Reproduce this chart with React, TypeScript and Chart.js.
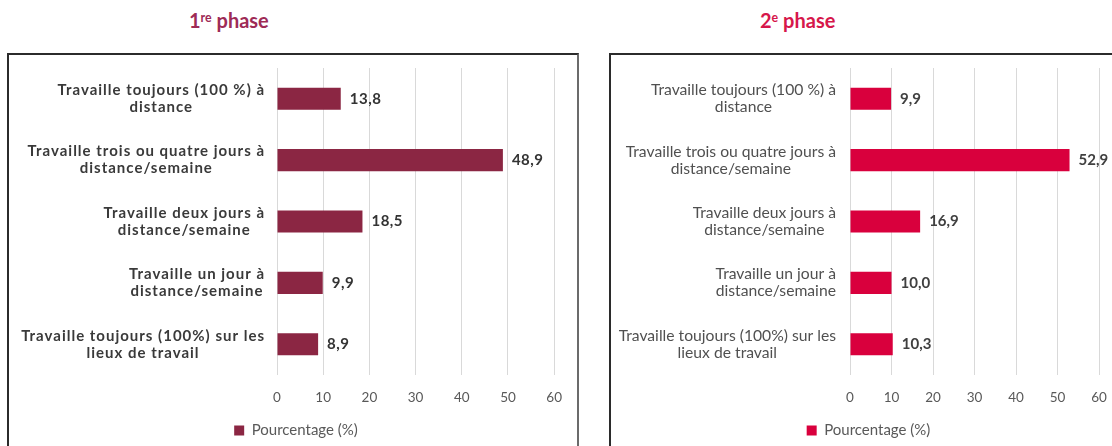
import React, { useEffect, useRef } from "react";
import { Chart, registerables } from "chart.js";

Chart.register(...registerables);

// ---- data ----
const categories: string[][] = [
  ["Travaille toujours (100 %) à", "distance"],
  ["Travaille trois ou quatre jours à", "distance/semaine"],
  ["Travaille deux jours à", "distance/semaine"],
  ["Travaille un jour à", "distance/semaine"],
  ["Travaille toujours (100%) sur les", "lieux de travail"],
];
const phase1Values = [13.8, 48.9, 18.5, 9.9, 8.9];
const phase2Values = [9.9, 52.9, 16.9, 10.0, 10.3];
const xTickValues = [0, 10, 20, 30, 40, 50, 60];
const seriesLabel = "Pourcentage (%)";

const excelLabels = {
  id: "excelLabels",
  afterDatasetsDraw(chart: any, _args: any, opts: any) {
    const { ctx, chartArea } = chart;
    const yScale = chart.scales.y;
    ctx.save();
    ctx.textBaseline = "middle";
    ctx.font = opts.catFont;
    ctx.fillStyle = opts.catColor;
    ctx.textAlign = "center";
    if ("letterSpacing" in ctx) (ctx as any).letterSpacing = opts.catSpacing;
    (chart.data.labels as string[][]).forEach((lines, i) => {
      const y = yScale.getPixelForValue(i);
      const w = Math.max(...lines.map((l) => ctx.measureText(l).width));
      const cx = chartArea.left - opts.gap - w / 2;
      const n = lines.length;
      lines.forEach((l, j) => {
        ctx.fillText(l, cx, y + (j - (n - 1) / 2) * opts.lineHeight);
      });
    });
    if ("letterSpacing" in ctx) (ctx as any).letterSpacing = opts.valSpacing;
    ctx.font = opts.valFont;
    ctx.fillStyle = opts.valColor;
    ctx.textAlign = "left";
    const meta = chart.getDatasetMeta(0);
    const data = chart.data.datasets[0].data as number[];
    meta.data.forEach((bar: any, i: number) => {
      ctx.fillText(data[i].toFixed(1).replace(".", ","), bar.x + opts.valGap, bar.y);
    });
    ctx.restore();
  },
};

type PanelProps = {
  values: number[];
  color: string;
  width: number;
  height: number;
  padLeft: number;
  axisWidth: number;
  padRight: number;
  catFont: string;
  catColor: string;
  catSpacing: string;
  valFont: string;
  valColor: string;
  valSpacing: string;
  gap: number;
  tickFamily: string;
};

function Panel(p: PanelProps) {
  const ref = useRef<HTMLCanvasElement>(null);
  useEffect(() => {
    if (!ref.current) return;
    const chart = new Chart(ref.current, {
      type: "bar",
      data: {
        labels: categories as any,
        datasets: [
          {
            label: seriesLabel,
            data: p.values,
            backgroundColor: p.color,
            borderWidth: 0,
            categoryPercentage: 1,
            barPercentage: 0.36,
          },
        ],
      },
      plugins: [excelLabels],
      options: {
        indexAxis: "y",
        responsive: false,
        animation: false,
        devicePixelRatio: 1,
        layout: { padding: { left: p.padLeft, right: p.padRight, top: 12, bottom: 0 } },
        scales: {
          x: {
            min: 0,
            max: 60,
            afterBuildTicks: (s: any) => {
              s.ticks = xTickValues.map((v) => ({ value: v }));
            },
            afterFit: (s: any) => {
              s.height = 38;
            },
            ticks: {
              color: "#595959",
              font: { family: p.tickFamily, size: 13.5 },
              padding: 15,
            },
            grid: { color: "#d9d9d9", lineWidth: 1, drawTicks: false },
            border: { display: false },
          },
          y: {
            type: "category",
            ticks: { display: false },
            grid: { display: false },
            border: { display: false },
            afterFit: (s: any) => {
              s.width = p.axisWidth;
            },
          },
        },
        plugins: {
          legend: {
            position: "bottom",
            labels: {
              boxWidth: 10,
              boxHeight: 10,
              padding: 10,
              color: "#595959",
              font: { family: p.tickFamily, size: 15 },
            },
          },
          tooltip: { enabled: false },
          title: { display: false },
          excelLabels: {
            catFont: p.catFont,
            catColor: p.catColor,
            catSpacing: p.catSpacing,
            valFont: p.valFont,
            valColor: p.valColor,
            valSpacing: p.valSpacing,
            gap: p.gap,
            lineHeight: 17,
            valGap: 9,
          },
        } as any,
      },
    });
    return () => chart.destroy();
  }, []);
  return (
    <canvas
      ref={ref}
      width={p.width}
      height={p.height}
      style={{ width: p.width, height: p.height, display: "block" }}
    />
  );
}

export default function App() {
  return (
    <div
      style={{
        position: "absolute",
        left: 0,
        top: 0,
        width: 1112,
        height: 446,
        overflow: "hidden",
        background: "#fff",
        fontFamily: "Lato, sans-serif",
      }}
    >
      <div
        style={{
          position: "absolute",
          left: 189,
          top: 10,
          fontSize: 20,
          lineHeight: "20px",
          fontWeight: 700,
          color: "#9e2b56",
          whiteSpace: "nowrap",
        }}
      >
        1<span style={{ fontSize: "0.62em", position: "relative", top: "-0.45em" }}>re</span> phase
      </div>
      <div
        style={{
          position: "absolute",
          left: 760,
          top: 10,
          fontSize: 20,
          lineHeight: "20px",
          fontWeight: 700,
          color: "#d6174b",
          whiteSpace: "nowrap",
        }}
      >
        2<span style={{ fontSize: "0.62em", position: "relative", top: "-0.45em" }}>e</span> phase
      </div>
      <div
        style={{
          position: "absolute",
          left: 7,
          top: 53,
          width: 572,
          height: 420,
          boxSizing: "border-box",
          border: "2px solid #2b2b2b",
          borderRightColor: "#6b6b6b",
        }}
      />
      <div
        style={{
          position: "absolute",
          left: 609,
          top: 53,
          width: 520,
          height: 420,
          boxSizing: "border-box",
          border: "2px solid #2b2b2b",
        }}
      />
      <div style={{ position: "absolute", left: 10, top: 56 }}>
        <Panel
          values={phase1Values}
          color="#8b2643"
          width={567}
          height={392}
          padLeft={27}
          axisWidth={240}
          padRight={22}
          catFont="bold 15px Lato"
          catColor="#3a3a3a"
          catSpacing="1px"
          valFont="bold 15px Lato"
          valColor="#333333"
          valSpacing="0.5px"
          gap={12}
          tickFamily="Lato"
        />
      </div>
      <div style={{ position: "absolute", left: 612, top: 56 }}>
        <Panel
          values={phase2Values}
          color="#d9003d"
          width={512}
          height={392}
          padLeft={26}
          axisWidth={212}
          padRight={25}
          catFont="15.7px Lato"
          catColor="#505050"
          catSpacing="0px"
          valFont="bold 15px Lato"
          valColor="#404040"
          valSpacing="0px"
          gap={14}
          tickFamily="Lato"
        />
      </div>
    </div>
  );
}
